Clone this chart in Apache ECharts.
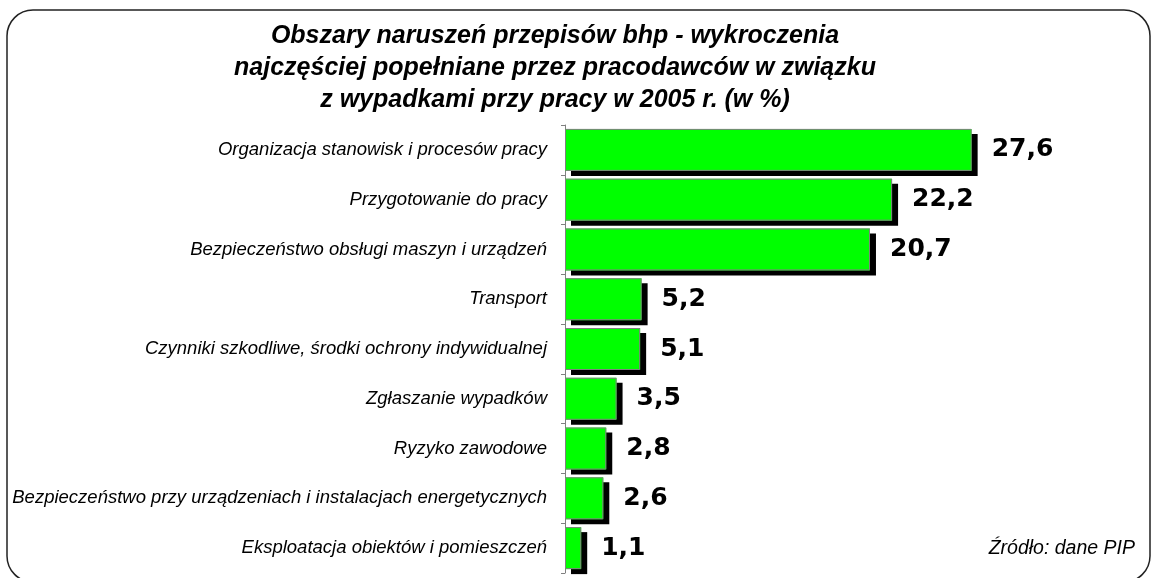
<!DOCTYPE html>
<html>
<head>
<meta charset="utf-8">
<script src="https://cdn.jsdelivr.net/npm/echarts@6/dist/echarts.min.js"></script>
<style>
  html, body { margin: 0; padding: 0; background: #fff; }
  #chart { width: 1152px; height: 578px; }
</style>
</head>
<body>
<div id="chart"></div>
<script>
const titleLines = [
  'Obszary naruszeń przepisów bhp - wykroczenia',
  'najczęściej popełniane przez pracodawców w związku',
  'z wypadkami przy pracy w 2005 r. (w %)'
]
const categories = [
  'Organizacja stanowisk i procesów pracy',
  'Przygotowanie do pracy',
  'Bezpieczeństwo obsługi maszyn i urządzeń',
  'Transport',
  'Czynniki szkodliwe, środki ochrony indywidualnej',
  'Zgłaszanie wypadków',
  'Ryzyko zawodowe',
  'Bezpieczeństwo przy urządzeniach i instalacjach energetycznych',
  'Eksploatacja obiektów i pomieszczeń'
]
const values = [27.6, 22.2, 20.7, 5.2, 5.1, 3.5, 2.8, 2.6, 1.1]
const sourceText = 'Źródło: dane PIP'

const chart = echarts.init(document.getElementById('chart'))

chart.setOption({
  animation: false,
  backgroundColor: '#fff',
  title: {
    text: titleLines.join('\n'),
    left: 550,
    textAlign: 'center',
    top: 15,
    textStyle: {
      fontFamily: 'Liberation Sans',
      fontSize: 25,
      fontWeight: 'bold',
      fontStyle: 'italic',
      color: '#000',
      lineHeight: 32
    }
  },
  graphic: [
    {
      type: 'rect',
      shape: { x: 7, y: 10, width: 1143, height: 572, r: 26 },
      style: { fill: 'none', stroke: '#222', lineWidth: 1.5 },
      z: 0
    },
    {
      type: 'text',
      right: 17,
      top: 539,
      style: {
        text: sourceText,
        fontFamily: 'Liberation Sans',
        fontSize: 19.5,
        fontStyle: 'italic',
        fill: '#000'
      }
    }
  ],
  grid: {
    left: 565,
    top: 125,
    height: 448,
    right: 145,
    containLabel: false
  },
  xAxis: {
    type: 'value',
    min: 0,
    max: 30,
    show: false
  },
  yAxis: {
    type: 'category',
    inverse: true,
    data: categories,
    axisLine: { show: true, lineStyle: { color: '#808080', width: 1 } },
    axisTick: { show: true, length: 4, lineStyle: { color: '#808080' } },
    axisLabel: {
      margin: 18,
      fontFamily: 'Liberation Sans',
      fontSize: 18.5,
      fontStyle: 'italic',
      color: '#000'
    }
  },
  series: [
    {
      // green fill with the hard black drop shadow
      type: 'bar',
      data: values,
      barWidth: 42,
      itemStyle: {
        color: '#00ff00',
        borderWidth: 0,
        shadowColor: '#000',
        shadowBlur: 0,
        shadowOffsetX: 6,
        shadowOffsetY: 5
      },
      label: {
        show: true,
        position: 'right',
        distance: 20,
        formatter: (p) => String(p.value).replace('.', ','),
        fontFamily: 'DejaVu Sans',
        fontWeight: 'bold',
        fontSize: 25,
        color: '#000'
      },
      emphasis: { disabled: true }
    },
    {
      // thin grey outline drawn over the same bars
      type: 'bar',
      data: values,
      barWidth: 42,
      barGap: '-100%',
      itemStyle: {
        color: 'rgba(0,0,0,0)',
        borderColor: '#808080',
        borderWidth: 1
      },
      emphasis: { disabled: true },
      silent: true
    }
  ]
})
</script>
</body>
</html>
